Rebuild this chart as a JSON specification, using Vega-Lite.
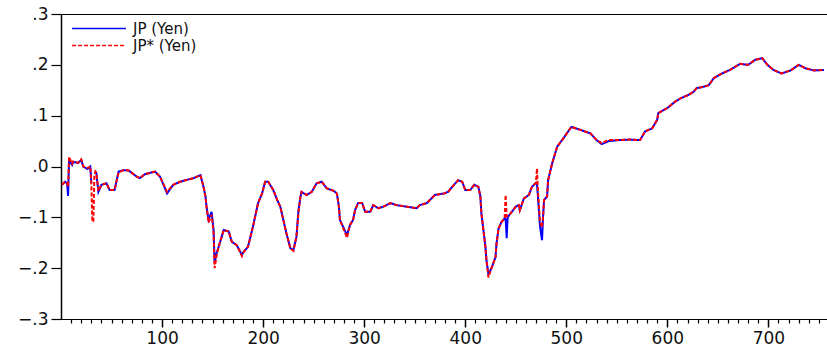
{
  "$schema": "https://vega.github.io/schema/vega-lite/v6.json",
  "width": 766,
  "height": 305,
  "autosize": {"type": "none"},
  "padding": {"left": 61, "top": 14, "right": 0, "bottom": 30},
  "background": "white",
  "config": {
    "view": {"stroke": "black", "strokeWidth": 1},
    "font": "DejaVu Sans"
  },
  "data": {
    "values": [
      {"x": 1, "JP (Yen)": -0.036, "JP* (Yen)": -0.036},
      {"x": 4, "JP (Yen)": -0.03, "JP* (Yen)": -0.03},
      {"x": 6, "JP (Yen)": -0.033, "JP* (Yen)": -0.033},
      {"x": 7, "JP (Yen)": -0.058, "JP* (Yen)": -0.04},
      {"x": 8, "JP (Yen)": 0.012, "JP* (Yen)": 0.019},
      {"x": 11, "JP (Yen)": 0.003, "JP* (Yen)": 0.005},
      {"x": 12, "JP (Yen)": 0.009, "JP* (Yen)": 0.01},
      {"x": 17, "JP (Yen)": 0.007, "JP* (Yen)": 0.007},
      {"x": 20, "JP (Yen)": 0.013, "JP* (Yen)": 0.014},
      {"x": 22, "JP (Yen)": 0.0, "JP* (Yen)": 0.0},
      {"x": 26, "JP (Yen)": -0.005, "JP* (Yen)": -0.003},
      {"x": 29, "JP (Yen)": 0.0, "JP* (Yen)": 0.0},
      {"x": 30, "JP (Yen)": -0.033, "JP* (Yen)": -0.033},
      {"x": 31, "JP (Yen)": null, "JP* (Yen)": -0.107},
      {"x": 32, "JP (Yen)": null, "JP* (Yen)": -0.109},
      {"x": 33, "JP (Yen)": null, "JP* (Yen)": -0.02},
      {"x": 34, "JP (Yen)": -0.01, "JP* (Yen)": -0.01},
      {"x": 35, "JP (Yen)": -0.013, "JP* (Yen)": -0.013},
      {"x": 37, "JP (Yen)": -0.05, "JP* (Yen)": -0.048},
      {"x": 40, "JP (Yen)": -0.036, "JP* (Yen)": -0.036},
      {"x": 45, "JP (Yen)": -0.033, "JP* (Yen)": -0.033},
      {"x": 48, "JP (Yen)": -0.046, "JP* (Yen)": -0.046},
      {"x": 53, "JP (Yen)": -0.046, "JP* (Yen)": -0.046},
      {"x": 57, "JP (Yen)": -0.01, "JP* (Yen)": -0.012},
      {"x": 62, "JP (Yen)": -0.007, "JP* (Yen)": -0.007},
      {"x": 67, "JP (Yen)": -0.008, "JP* (Yen)": -0.008},
      {"x": 75, "JP (Yen)": -0.02, "JP* (Yen)": -0.02},
      {"x": 78, "JP (Yen)": -0.023, "JP* (Yen)": -0.023},
      {"x": 83, "JP (Yen)": -0.015, "JP* (Yen)": -0.015},
      {"x": 93, "JP (Yen)": -0.01, "JP* (Yen)": -0.01},
      {"x": 98, "JP (Yen)": -0.02, "JP* (Yen)": -0.02},
      {"x": 105, "JP (Yen)": -0.053, "JP* (Yen)": -0.05},
      {"x": 111, "JP (Yen)": -0.036, "JP* (Yen)": -0.036},
      {"x": 118, "JP (Yen)": -0.03, "JP* (Yen)": -0.03},
      {"x": 123, "JP (Yen)": -0.027, "JP* (Yen)": -0.027},
      {"x": 131, "JP (Yen)": -0.023, "JP* (Yen)": -0.023},
      {"x": 138, "JP (Yen)": -0.017, "JP* (Yen)": -0.017},
      {"x": 141, "JP (Yen)": -0.04, "JP* (Yen)": -0.04},
      {"x": 143, "JP (Yen)": -0.059, "JP* (Yen)": -0.06},
      {"x": 144, "JP (Yen)": -0.079, "JP* (Yen)": -0.079},
      {"x": 146, "JP (Yen)": -0.105, "JP* (Yen)": -0.11},
      {"x": 149, "JP (Yen)": -0.089, "JP* (Yen)": -0.095},
      {"x": 151, "JP (Yen)": -0.125, "JP* (Yen)": -0.13},
      {"x": 152, "JP (Yen)": -0.19, "JP* (Yen)": -0.2},
      {"x": 154, "JP (Yen)": -0.17, "JP* (Yen)": -0.175},
      {"x": 156, "JP (Yen)": -0.158, "JP* (Yen)": -0.158},
      {"x": 161, "JP (Yen)": -0.125, "JP* (Yen)": -0.125},
      {"x": 166, "JP (Yen)": -0.128, "JP* (Yen)": -0.128},
      {"x": 169, "JP (Yen)": -0.148, "JP* (Yen)": -0.148},
      {"x": 174, "JP (Yen)": -0.155, "JP* (Yen)": -0.155},
      {"x": 179, "JP (Yen)": -0.174, "JP* (Yen)": -0.176},
      {"x": 180, "JP (Yen)": -0.17, "JP* (Yen)": -0.17},
      {"x": 185, "JP (Yen)": -0.158, "JP* (Yen)": -0.158},
      {"x": 190, "JP (Yen)": -0.118, "JP* (Yen)": -0.118},
      {"x": 195, "JP (Yen)": -0.072, "JP* (Yen)": -0.072},
      {"x": 199, "JP (Yen)": -0.053, "JP* (Yen)": -0.053},
      {"x": 202, "JP (Yen)": -0.03, "JP* (Yen)": -0.03},
      {"x": 205, "JP (Yen)": -0.03, "JP* (Yen)": -0.03},
      {"x": 210, "JP (Yen)": -0.046, "JP* (Yen)": -0.046},
      {"x": 214, "JP (Yen)": -0.066, "JP* (Yen)": -0.066},
      {"x": 217, "JP (Yen)": -0.079, "JP* (Yen)": -0.079},
      {"x": 220, "JP (Yen)": -0.105, "JP* (Yen)": -0.105},
      {"x": 223, "JP (Yen)": -0.131, "JP* (Yen)": -0.131},
      {"x": 227, "JP (Yen)": -0.161, "JP* (Yen)": -0.161},
      {"x": 230, "JP (Yen)": -0.164, "JP* (Yen)": -0.166},
      {"x": 233, "JP (Yen)": -0.138, "JP* (Yen)": -0.138},
      {"x": 235, "JP (Yen)": -0.086, "JP* (Yen)": -0.09},
      {"x": 237, "JP (Yen)": -0.059, "JP* (Yen)": -0.059},
      {"x": 238, "JP (Yen)": -0.05, "JP* (Yen)": -0.05},
      {"x": 243, "JP (Yen)": -0.056, "JP* (Yen)": -0.056},
      {"x": 248, "JP (Yen)": -0.05, "JP* (Yen)": -0.05},
      {"x": 253, "JP (Yen)": -0.033, "JP* (Yen)": -0.033},
      {"x": 258, "JP (Yen)": -0.03, "JP* (Yen)": -0.03},
      {"x": 263, "JP (Yen)": -0.043, "JP* (Yen)": -0.043},
      {"x": 270, "JP (Yen)": -0.048, "JP* (Yen)": -0.048},
      {"x": 273, "JP (Yen)": -0.053, "JP* (Yen)": -0.053},
      {"x": 275, "JP (Yen)": -0.079, "JP* (Yen)": -0.079},
      {"x": 276, "JP (Yen)": -0.105, "JP* (Yen)": -0.105},
      {"x": 280, "JP (Yen)": -0.122, "JP* (Yen)": -0.125},
      {"x": 283, "JP (Yen)": -0.135, "JP* (Yen)": -0.14},
      {"x": 286, "JP (Yen)": -0.115, "JP* (Yen)": -0.115},
      {"x": 289, "JP (Yen)": -0.105, "JP* (Yen)": -0.105},
      {"x": 291, "JP (Yen)": -0.086, "JP* (Yen)": -0.086},
      {"x": 294, "JP (Yen)": -0.072, "JP* (Yen)": -0.072},
      {"x": 298, "JP (Yen)": -0.072, "JP* (Yen)": -0.072},
      {"x": 301, "JP (Yen)": -0.089, "JP* (Yen)": -0.089},
      {"x": 306, "JP (Yen)": -0.089, "JP* (Yen)": -0.089},
      {"x": 309, "JP (Yen)": -0.076, "JP* (Yen)": -0.076},
      {"x": 314, "JP (Yen)": -0.082, "JP* (Yen)": -0.082},
      {"x": 319, "JP (Yen)": -0.079, "JP* (Yen)": -0.079},
      {"x": 326, "JP (Yen)": -0.072, "JP* (Yen)": -0.072},
      {"x": 332, "JP (Yen)": -0.076, "JP* (Yen)": -0.076},
      {"x": 342, "JP (Yen)": -0.079, "JP* (Yen)": -0.079},
      {"x": 352, "JP (Yen)": -0.082, "JP* (Yen)": -0.082},
      {"x": 355, "JP (Yen)": -0.076, "JP* (Yen)": -0.076},
      {"x": 362, "JP (Yen)": -0.072, "JP* (Yen)": -0.072},
      {"x": 370, "JP (Yen)": -0.056, "JP* (Yen)": -0.056},
      {"x": 379, "JP (Yen)": -0.053, "JP* (Yen)": -0.053},
      {"x": 383, "JP (Yen)": -0.05, "JP* (Yen)": -0.05},
      {"x": 388, "JP (Yen)": -0.038, "JP* (Yen)": -0.038},
      {"x": 393, "JP (Yen)": -0.027, "JP* (Yen)": -0.027},
      {"x": 397, "JP (Yen)": -0.03, "JP* (Yen)": -0.03},
      {"x": 400, "JP (Yen)": -0.046, "JP* (Yen)": -0.046},
      {"x": 405, "JP (Yen)": -0.046, "JP* (Yen)": -0.046},
      {"x": 409, "JP (Yen)": -0.036, "JP* (Yen)": -0.036},
      {"x": 413, "JP (Yen)": -0.04, "JP* (Yen)": -0.04},
      {"x": 415, "JP (Yen)": -0.059, "JP* (Yen)": -0.059},
      {"x": 416, "JP (Yen)": -0.092, "JP* (Yen)": -0.092},
      {"x": 418, "JP (Yen)": -0.125, "JP* (Yen)": -0.125},
      {"x": 420, "JP (Yen)": -0.158, "JP* (Yen)": -0.158},
      {"x": 421, "JP (Yen)": -0.184, "JP* (Yen)": -0.184},
      {"x": 423, "JP (Yen)": -0.212, "JP* (Yen)": -0.218},
      {"x": 426, "JP (Yen)": -0.2, "JP* (Yen)": -0.2},
      {"x": 430, "JP (Yen)": -0.178, "JP* (Yen)": -0.178},
      {"x": 431, "JP (Yen)": -0.151, "JP* (Yen)": -0.151},
      {"x": 433, "JP (Yen)": -0.122, "JP* (Yen)": -0.122},
      {"x": 436, "JP (Yen)": -0.109, "JP* (Yen)": -0.109},
      {"x": 439, "JP (Yen)": -0.102, "JP* (Yen)": -0.102},
      {"x": 440, "JP (Yen)": -0.104, "JP* (Yen)": -0.056},
      {"x": 441, "JP (Yen)": -0.141, "JP* (Yen)": -0.098},
      {"x": 442, "JP (Yen)": -0.1, "JP* (Yen)": -0.097},
      {"x": 445, "JP (Yen)": -0.092, "JP* (Yen)": -0.092},
      {"x": 450, "JP (Yen)": -0.079, "JP* (Yen)": -0.079},
      {"x": 453, "JP (Yen)": -0.076, "JP* (Yen)": -0.076},
      {"x": 454, "JP (Yen)": -0.086, "JP* (Yen)": -0.086},
      {"x": 458, "JP (Yen)": -0.063, "JP* (Yen)": -0.063},
      {"x": 463, "JP (Yen)": -0.056, "JP* (Yen)": -0.056},
      {"x": 466, "JP (Yen)": -0.04, "JP* (Yen)": -0.04},
      {"x": 470, "JP (Yen)": -0.032, "JP* (Yen)": -0.032},
      {"x": 471, "JP (Yen)": -0.035, "JP* (Yen)": -0.004},
      {"x": 472, "JP (Yen)": -0.06, "JP* (Yen)": -0.05},
      {"x": 474, "JP (Yen)": -0.118, "JP* (Yen)": -0.11},
      {"x": 476, "JP (Yen)": -0.145, "JP* (Yen)": -0.12},
      {"x": 477, "JP (Yen)": -0.1, "JP* (Yen)": -0.1},
      {"x": 478, "JP (Yen)": -0.066, "JP* (Yen)": -0.066},
      {"x": 481, "JP (Yen)": -0.059, "JP* (Yen)": -0.059},
      {"x": 482, "JP (Yen)": -0.027, "JP* (Yen)": -0.027},
      {"x": 486, "JP (Yen)": 0.006, "JP* (Yen)": 0.006},
      {"x": 491, "JP (Yen)": 0.039, "JP* (Yen)": 0.039},
      {"x": 497, "JP (Yen)": 0.055, "JP* (Yen)": 0.055},
      {"x": 505, "JP (Yen)": 0.078, "JP* (Yen)": 0.078},
      {"x": 514, "JP (Yen)": 0.072, "JP* (Yen)": 0.072},
      {"x": 524, "JP (Yen)": 0.065, "JP* (Yen)": 0.065},
      {"x": 530, "JP (Yen)": 0.052, "JP* (Yen)": 0.052},
      {"x": 535, "JP (Yen)": 0.044, "JP* (Yen)": 0.046},
      {"x": 542, "JP (Yen)": 0.05, "JP* (Yen)": 0.052},
      {"x": 553, "JP (Yen)": 0.052, "JP* (Yen)": 0.052},
      {"x": 563, "JP (Yen)": 0.053, "JP* (Yen)": 0.053},
      {"x": 573, "JP (Yen)": 0.052, "JP* (Yen)": 0.052},
      {"x": 578, "JP (Yen)": 0.069, "JP* (Yen)": 0.069},
      {"x": 585, "JP (Yen)": 0.075, "JP* (Yen)": 0.075},
      {"x": 590, "JP (Yen)": 0.092, "JP* (Yen)": 0.092},
      {"x": 591, "JP (Yen)": 0.105, "JP* (Yen)": 0.105},
      {"x": 600, "JP (Yen)": 0.115, "JP* (Yen)": 0.115},
      {"x": 608, "JP (Yen)": 0.128, "JP* (Yen)": 0.128},
      {"x": 613, "JP (Yen)": 0.134, "JP* (Yen)": 0.134},
      {"x": 621, "JP (Yen)": 0.141, "JP* (Yen)": 0.141},
      {"x": 626, "JP (Yen)": 0.147, "JP* (Yen)": 0.147},
      {"x": 629, "JP (Yen)": 0.154, "JP* (Yen)": 0.154},
      {"x": 636, "JP (Yen)": 0.157, "JP* (Yen)": 0.157},
      {"x": 641, "JP (Yen)": 0.16, "JP* (Yen)": 0.16},
      {"x": 646, "JP (Yen)": 0.174, "JP* (Yen)": 0.174},
      {"x": 654, "JP (Yen)": 0.183, "JP* (Yen)": 0.183},
      {"x": 662, "JP (Yen)": 0.19, "JP* (Yen)": 0.19},
      {"x": 672, "JP (Yen)": 0.202, "JP* (Yen)": 0.202},
      {"x": 680, "JP (Yen)": 0.2, "JP* (Yen)": 0.2},
      {"x": 687, "JP (Yen)": 0.21, "JP* (Yen)": 0.21},
      {"x": 694, "JP (Yen)": 0.213, "JP* (Yen)": 0.213},
      {"x": 699, "JP (Yen)": 0.2, "JP* (Yen)": 0.2},
      {"x": 705, "JP (Yen)": 0.19, "JP* (Yen)": 0.19},
      {"x": 713, "JP (Yen)": 0.183, "JP* (Yen)": 0.183},
      {"x": 722, "JP (Yen)": 0.189, "JP* (Yen)": 0.189},
      {"x": 730, "JP (Yen)": 0.2, "JP* (Yen)": 0.2},
      {"x": 737, "JP (Yen)": 0.193, "JP* (Yen)": 0.193},
      {"x": 745, "JP (Yen)": 0.189, "JP* (Yen)": 0.189},
      {"x": 755, "JP (Yen)": 0.19, "JP* (Yen)": 0.19}
    ]
  },
  "transform": [
    {"fold": ["JP (Yen)", "JP* (Yen)"], "as": ["series", "v"]}
  ],
  "mark": {"type": "line", "strokeWidth": 2, "clip": true},
  "encoding": {
    "x": {
      "field": "x",
      "type": "quantitative",
      "scale": {"domain": [0, 758], "nice": false, "zero": false},
      "axis": {
        "title": null,
        "grid": false,
        "values": [10,20,30,40,50,60,70,80,90,100,110,120,130,140,150,160,170,180,190,200,210,220,230,240,250,260,270,280,290,300,310,320,330,340,350,360,370,380,390,400,410,420,430,440,450,460,470,480,490,500,510,520,530,540,550,560,570,580,590,600,610,620,630,640,650,660,670,680,690,700,710,720,730,740,750],
        "labelExpr": "datum.value % 100 === 0 ? format(datum.value, 'd') : ''",
        "labelOverlap": false,
        "labelFlush": false,
        "tickSize": {"condition": {"test": "datum.value % 100 === 0", "value": 8}, "value": 4},
        "tickWidth": {"condition": {"test": "datum.value % 100 === 0", "value": 1.5}, "value": 1.2},
        "tickColor": "black",
        "domainColor": "black",
        "domainWidth": 1.2,
        "labelFont": "DejaVu Sans",
        "labelFontSize": 17,
        "labelColor": "#111",
        "labelPadding": 3
      }
    },
    "y": {
      "field": "v",
      "type": "quantitative",
      "scale": {"domain": [-0.3, 0.3], "nice": false},
      "axis": {
        "title": null,
        "grid": false,
        "values": [-0.3, -0.2, -0.1, 0, 0.1, 0.2, 0.3],
        "labelExpr": "replace(format(datum.value, '.1f'), '0.', '.')",
        "tickSize": 10,
        "tickColor": "black",
        "tickWidth": 1.2,
        "domainColor": "black",
        "domainWidth": 1.5,
        "labelFont": "DejaVu Sans",
        "labelFontSize": 17,
        "labelColor": "#111",
        "labelPadding": 3
      }
    },
    "color": {
      "field": "series",
      "type": "nominal",
      "scale": {"domain": ["JP (Yen)", "JP* (Yen)"], "range": ["#0000FF", "#FF0000"]},
      "legend": {
        "title": null,
        "orient": "none",
        "legendX": 10,
        "legendY": 7,
        "padding": 0,
        "symbolType": "stroke",
        "symbolSize": 2900,
        "symbolStrokeWidth": 1.3,
        "labelFont": "DejaVu Sans",
        "labelFontSize": 15,
        "labelColor": "#111",
        "labelOffset": 6,
        "rowPadding": 1,
        "clipHeight": 15
      }
    },
    "strokeDash": {
      "field": "series",
      "type": "nominal",
      "scale": {"domain": ["JP (Yen)", "JP* (Yen)"], "range": [[1, 0], [4, 2]]},
      "legend": null
    },
    "order": {"field": "x", "type": "quantitative"}
  }
}
